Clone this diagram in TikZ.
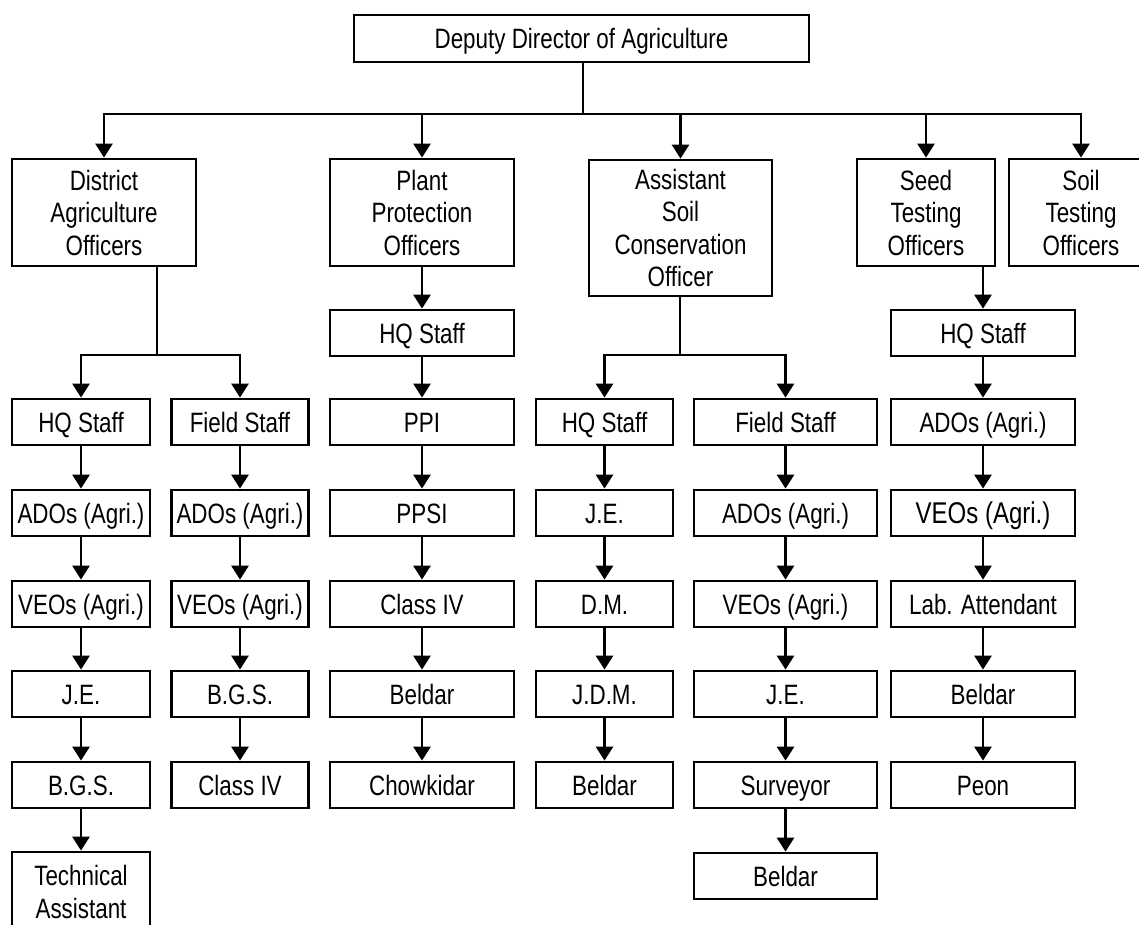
\documentclass[tikz,border=0pt]{standalone}
\usepackage{fontspec}
\setmainfont{Liberation Sans}[FakeStretch=0.8]
\usetikzlibrary{arrows.meta}
\begin{document}
\begin{tikzpicture}[x=1pt,y=-1pt,
  box/.style={draw, line width=2.8pt, align=center, inner sep=0pt,
              font=\fontsize{28}{32.5}\selectfont},
  row/.style={minimum height=46pt, text height=20pt, text depth=0pt},
  c1/.style={minimum width=138pt},
  c2/.style={minimum width=137pt},
  c3/.style={minimum width=184pt},
  c4/.style={minimum width=137pt},
  c5/.style={minimum width=183pt},
  c6/.style={minimum width=184pt},
  link/.style={line width=2.8pt},
  arr/.style={line width=2.8pt, -{Triangle[width=17pt,length=14pt]}}]
\clip (0,0) rectangle (1139,924);

% head of the department
\node[box, minimum width=455pt, minimum height=47pt, text height=20pt, text depth=0pt] (dda) at (581.5,38.5) {Deputy Director of Agriculture};

% officer level
\node[box, minimum width=184pt, minimum height=107pt] (dao) at (104,212.5) {District\\Agriculture\\Officers};
\node[box, minimum width=184pt, minimum height=107pt] (ppo) at (422,212.5) {Plant\\Protection\\Officers};
\node[box, minimum width=183pt, minimum height=136pt] (asco) at (680.5,228) {Assistant\\Soil\\Conservation\\Officer};
\node[box, minimum width=138pt, minimum height=107pt] (sto) at (926,212.5) {Seed\\Testing\\Officers};
\node[box, minimum width=144pt, minimum height=107pt] (soil) at (1081,212.5) {Soil\\Testing\\Officers};

% District Agriculture Officers: HQ staff
\node[box,c1,row] (dhq) at (81,422) {HQ Staff};
\node[box,c1,row] (dh1) at (81,513) {ADOs (Agri.)};
\node[box,c1,row] (dh2) at (81,604) {VEOs (Agri.)};
\node[box,c1,row] (dh3) at (81,694) {J.E.};
\node[box,c1,row] (dh4) at (81,785) {B.G.S.};
\node[box,c1,minimum height=80pt] (dh5) at (81,892) {Technical\\Assistant};

% District Agriculture Officers: field staff
\node[box,c2,row] (dfs) at (240,422) {Field Staff};
\node[box,c2,row] (df1) at (240,513) {ADOs (Agri.)};
\node[box,c2,row] (df2) at (240,604) {VEOs (Agri.)};
\node[box,c2,row] (df3) at (240,694) {B.G.S.};
\node[box,c2,row] (df4) at (240,785) {Class IV};

% Plant Protection Officers
\node[box,c3,row] (phq) at (422,333) {HQ Staff};
\node[box,c3,row] (pp1) at (422,422) {PPI};
\node[box,c3,row] (pp2) at (422,513) {PPSI};
\node[box,c3,row] (pp3) at (422,604) {Class IV};
\node[box,c3,row] (pp4) at (422,694) {Beldar};
\node[box,c3,row] (pp5) at (422,785) {Chowkidar};

% Assistant Soil Conservation Officer: HQ staff
\node[box,c4,row] (ahq) at (604.5,422) {HQ Staff};
\node[box,c4,row] (ah1) at (604.5,513) {J.E.};
\node[box,c4,row] (ah2) at (604.5,604) {D.M.};
\node[box,c4,row] (ah3) at (604.5,694) {J.D.M.};
\node[box,c4,row] (ah4) at (604.5,785) {Beldar};

% Assistant Soil Conservation Officer: field staff
\node[box,c5,row] (afs) at (785.5,422) {Field Staff};
\node[box,c5,row] (af1) at (785.5,513) {ADOs (Agri.)};
\node[box,c5,row] (af2) at (785.5,604) {VEOs (Agri.)};
\node[box,c5,row] (af3) at (785.5,694) {J.E.};
\node[box,c5,row] (af4) at (785.5,785) {Surveyor};
\node[box,c5,row] (af5) at (785.5,876) {Beldar};

% Seed Testing Officers
\node[box,c6,row] (shq) at (983,333) {HQ Staff};
\node[box,c6,row] (st1) at (983,422) {ADOs (Agri.)};
\node[box,c6,row,font=\fontsize{30}{34}\selectfont] (st2) at (983,513) {VEOs (Agri.)};
\node[box,c6,row] (st3) at (983,604) {Lab. Attendant};
\node[box,c6,row] (st4) at (983,694) {Beldar};
\node[box,c6,row] (st5) at (983,785) {Peon};

% branching points
\coordinate (bus) at (583,114);
\coordinate (dsplit) at (157,355);
\coordinate (asplit) at (680,355);

% top bus to the officers
\draw[link] (dda.south -| bus) -- (bus);
\foreach \n in {dao,ppo,asco,sto,soil}
  \draw[arr] (bus) -| (\n.north);

% split of district staff
\draw[link] (dao.south -| dsplit) -- (dsplit);
\draw[arr] (dsplit) -| (dhq.north);
\draw[arr] (dsplit) -| (dfs.north);

% split of soil conservation staff
\draw[link] (asco.south -| asplit) -- (asplit);
\draw[arr] (asplit) -| (ahq.north);
\draw[arr] (asplit) -| (afs.north);

% single descents
\draw[arr] (ppo) -- (phq);
\draw[arr] (sto.south -| shq.north) -- (shq.north);

% vertical chains
\foreach \a/\b in {dhq/dh1,dh1/dh2,dh2/dh3,dh3/dh4,dh4/dh5,
                   dfs/df1,df1/df2,df2/df3,df3/df4,
                   phq/pp1,pp1/pp2,pp2/pp3,pp3/pp4,pp4/pp5,
                   ahq/ah1,ah1/ah2,ah2/ah3,ah3/ah4,
                   afs/af1,af1/af2,af2/af3,af3/af4,af4/af5,
                   shq/st1,st1/st2,st2/st3,st3/st4,st4/st5}
  \draw[arr] (\a) -- (\b);
\end{tikzpicture}
\end{document}
